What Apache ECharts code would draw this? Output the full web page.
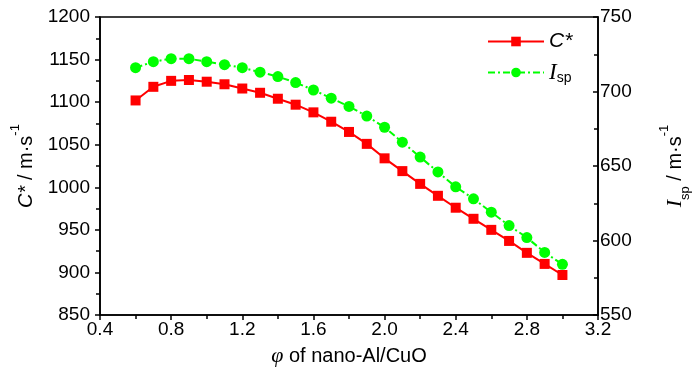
<!DOCTYPE html>
<html>
<head>
<meta charset="utf-8">
<script src="https://cdn.jsdelivr.net/npm/echarts@6/dist/echarts.min.js"></script>
<style>html,body{margin:0;padding:0;background:#fff}#c{width:700px;height:374px}</style>
</head>
<body>
<div id="c"></div>
<script>
const phi = [0.6,0.7,0.8,0.9,1.0,1.1,1.2,1.3,1.4,1.5,1.6,1.7,1.8,1.9,2.0,2.1,2.2,2.3,2.4,2.5,2.6,2.7,2.8,2.9,3.0];
const cStar = [1102,1118,1125,1126,1124,1121,1116,1111,1104,1097,1088,1077,1065,1051,1034,1019,1004,990,976,963,950,937,923,910,897];
const isp = [716,720,722,722,720,718,716,713,710,706,701,695.5,690,683.5,676,666,656,646,636,628,619,610,602,592,584];
const xTicks = {min:0.4, max:3.2, step:0.4};
const yLeftTicks = {min:850, max:1200, step:50};
const yRightTicks = {min:550, max:750, step:50};

const FONT = "'Liberation Sans',Arial,sans-serif";
const chart = echarts.init(document.getElementById('c'), null, {renderer:'canvas'});
const axisLine = {show:true, lineStyle:{color:'#000', width:1.6}};
const lbl = {color:'#000', fontFamily:FONT, fontSize:19};
chart.setOption({
  animation:false,
  backgroundColor:'#fff',
  grid:{left:100, right:100, top:17, bottom:59, show:true, borderColor:'#000', borderWidth:1.6},
  legend:{
    orient:'vertical', left:482, top:26, itemWidth:56, itemHeight:12, itemGap:9,
    data:['C*','Isp'],
    formatter: n => n === 'C*' ? '{c|C*}' : '{I|I}{sub|sp}',
    textStyle:{color:'#000', rich:{
      c:{fontFamily:"'Liberation Sans',Arial", fontStyle:'italic', fontSize:21, color:'#000'},
      I:{fontFamily:"'Liberation Serif','Times New Roman'", fontStyle:'italic', fontSize:23, color:'#000'},
      sub:{fontFamily:"'Liberation Sans',Arial", fontSize:14, color:'#000', verticalAlign:'bottom', padding:[12,0,0,0]}
    }}
  },
  xAxis:{
    type:'value', min:xTicks.min, max:xTicks.max, interval:xTicks.step,
    axisLine:axisLine,
    axisTick:{show:true, inside:false, length:5, lineStyle:{color:'#000', width:1.5}},
    minorTick:{show:true, splitNumber:2, length:4, lineStyle:{color:'#000', width:1.5}},
    splitLine:{show:false},
    axisLabel:Object.assign({margin:5, formatter:v=>v.toFixed(1)}, lbl),
    name:'{p|φ}{t| of nano-Al/CuO}', nameLocation:'middle', nameGap:30, nameMoveOverlap:false,
    nameTextStyle:{rich:{
      p:{fontFamily:"'Liberation Serif','Times New Roman'", fontStyle:'italic', fontSize:22, color:'#000'},
      t:{fontFamily:"'Liberation Sans',Arial", fontSize:20, color:'#000'}
    }}
  },
  yAxis:[{
    type:'value', position:'left', min:yLeftTicks.min, max:yLeftTicks.max, interval:yLeftTicks.step,
    axisLine:axisLine,
    axisTick:{show:true, inside:false, length:5, lineStyle:{color:'#000', width:1.5}},
    minorTick:{show:true, splitNumber:2, length:4, lineStyle:{color:'#000', width:1.5}},
    splitLine:{show:false},
    axisLabel:Object.assign({margin:10, formatter:v=>String(v)}, lbl),
    name:'{i|C*}{n| / m·s}{sup|-1}', nameLocation:'middle', nameGap:57, nameRotate:90, nameMoveOverlap:false,
    nameTextStyle:{rich:{
      i:{fontFamily:"'Liberation Sans',Arial", fontStyle:'italic', fontSize:20, color:'#000', lineHeight:34},
      n:{fontFamily:"'Liberation Sans',Arial", fontSize:20, color:'#000', lineHeight:34},
      sup:{fontFamily:"'Liberation Sans',Arial", fontSize:13, color:'#000', verticalAlign:'top', lineHeight:14}
    }}
  },{
    type:'value', position:'right', min:yRightTicks.min, max:yRightTicks.max, interval:yRightTicks.step,
    axisLine:axisLine,
    axisTick:{show:true, inside:true, length:5, lineStyle:{color:'#000', width:1.5}},
    minorTick:{show:true, splitNumber:2, length:4, lineStyle:{color:'#000', width:1.5}},
    splitLine:{show:false},
    axisLabel:Object.assign({margin:2, formatter:v=>String(v)}, lbl),
    name:'{I|I}{sub|sp}{n| / m·s}{sup|-1}', nameLocation:'middle', nameGap:60, nameRotate:90, nameMoveOverlap:false,
    nameTextStyle:{rich:{
      I:{fontFamily:"'Liberation Serif','Times New Roman'", fontStyle:'italic', fontSize:22, color:'#000', lineHeight:34},
      sub:{fontFamily:"'Liberation Sans',Arial", fontSize:13, color:'#000', verticalAlign:'bottom', lineHeight:14},
      n:{fontFamily:"'Liberation Sans',Arial", fontSize:20, color:'#000', lineHeight:34},
      sup:{fontFamily:"'Liberation Sans',Arial", fontSize:13, color:'#000', verticalAlign:'top', lineHeight:14}
    }}
  }],
  series:[{
    name:'C*', type:'line', yAxisIndex:0,
    data: phi.map((x,i)=>[x, cStar[i]]),
    symbol:'rect', symbolSize:10,
    itemStyle:{color:'#ff0000'},
    lineStyle:{color:'#ff0000', width:2, type:'solid'}
  },{
    name:'Isp', type:'line', yAxisIndex:1,
    data: phi.map((x,i)=>[x, isp[i]]),
    symbol:'circle', symbolSize:11,
    itemStyle:{color:'#00ff00'},
    lineStyle:{color:'#00ff00', width:2, type:[7,3,2,3]}
  }]
});
</script>
</body>
</html>
